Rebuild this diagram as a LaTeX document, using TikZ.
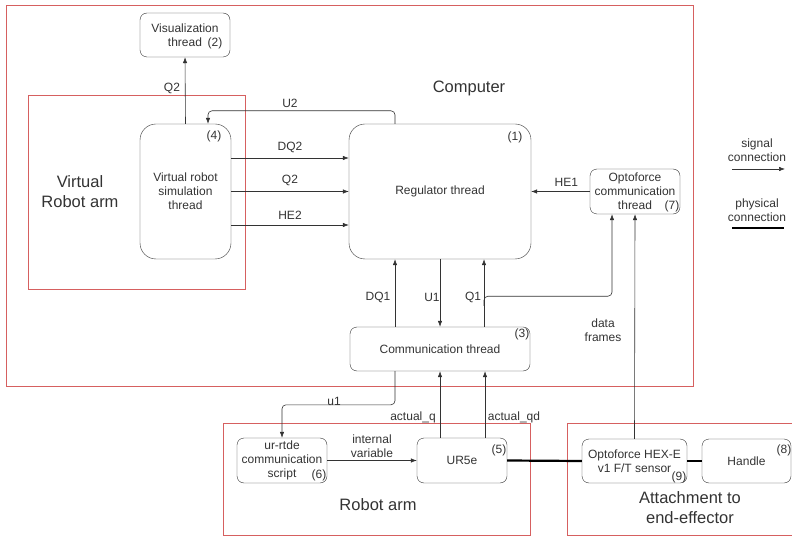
\documentclass[tikz,border=0pt]{standalone}
\usepackage{fontspec}
\setmainfont{Liberation Sans}
\usetikzlibrary{arrows.meta,positioning}

\definecolor{grpred}{RGB}{214,96,96}
\definecolor{ink}{RGB}{51,51,51}

\tikzset{
  block/.style={draw=ink, rounded corners=7pt, align=center, inner sep=0pt,
    font=\fontsize{12}{14}\selectfont, text=ink},
  bigblock/.style={block, rounded corners=16pt},
  group/.style={draw=grpred, line width=0.9pt},
  grouplabel/.style={align=center, font=\fontsize{16.5}{20}\selectfont, text=ink},
  num/.style={font=\fontsize{12}{14}\selectfont, text=ink, inner sep=0pt},
  lbl/.style={font=\fontsize{12}{14}\selectfont, text=ink, inner sep=0pt, align=center},
  sig/.style={draw=ink, line width=0.6pt, -{Latex[length=6pt,width=4.5pt]}},
  phys/.style={draw=black, line width=2.2pt}
}

\begin{document}
\begin{tikzpicture}[x=1pt,y=-1pt]
    \useasboundingbox (0,0) rectangle (792,537);

    % Groups
    \draw[group] (6,5) rectangle (693,386);
    \draw[group] (28,95) rectangle (245,289);
    \draw[group] (223,423) rectangle (530,535);
    \draw[group] (567,423) rectangle (800,535);
    \node[grouplabel] (computer) at (469,88) {Computer};
    \node[grouplabel] (virtual) at (80,192) {Virtual\\Robot arm};
    \node[grouplabel] (robotarm) at (378,505) {Robot arm};
    \node[grouplabel] (attach) at (690,508) {Attachment to\\end-effector};

    % Threads
    \node[block, minimum width=90pt, minimum height=44pt] (vis) at (185,35) {Visualization\\thread};
    \node[num] at (215,43) {(2)};
    \node[bigblock, minimum width=91pt, minimum height=135pt] (sim) at (185.5,191.5) {Virtual robot\\simulation\\thread};
    \node[num] at (214,136) {(4)};
    \node[bigblock, minimum width=182pt, minimum height=135pt] (reg) at (440,191.5) {Regulator thread};
    \node[num] at (515,137) {(1)};
    \node[block, minimum width=90pt, minimum height=45pt] (opt) at (635,191.5) {Optoforce\\communication\\thread};
    \node[num] at (672,206) {(7)};
    \node[block, minimum width=180pt, minimum height=44pt] (comm) at (440,349) {Communication thread};
    \node[num] at (522,334) {(3)};

    % Hardware
    \node[block, minimum width=90pt, minimum height=45pt] (rtde) at (282,460.5) {ur-rtde\\communication\\script};
    \node[num] at (319,475) {(6)};
    \node[block, minimum width=90pt, minimum height=45pt] (ur) at (462,460.5) {UR5e};
    \node[num] at (499,450) {(5)};
    \node[block, minimum width=105pt, minimum height=44pt] (sens) at (634.5,461) {Optoforce HEX-E\\v1 F/T sensor};
    \node[num] at (679,477) {(9)};
    \node[block, minimum width=89pt, minimum height=44pt] (handle) at (746.5,461) {Handle};
    \node[num] at (784,450) {(8)};

    % Signals
    \draw[sig] (sim.north) -- (vis.south);
    \node[lbl] at (172,88) {Q2};
    \draw[sig, rounded corners=4pt] ([xshift=-45pt]reg.north) |- ([xshift=22.5pt,yshift=13pt]sim.north) -- ([xshift=22.5pt]sim.north);
    \node[lbl] at (290,103) {U2};
    \draw[sig] ([yshift=33.5pt]sim.east) -- node[lbl, above=5pt] {DQ2} ([yshift=33.5pt]reg.west);
    \draw[sig] (sim.east) -- node[lbl, above=5pt] {Q2} (reg.west);
    \draw[sig] ([yshift=-33.5pt]sim.east) -- node[lbl, above=5pt] {HE2} ([yshift=-33.5pt]reg.west);
    \draw[sig] (opt.west) -- node[lbl, above=5pt, pos=0.4] {HE1} (reg.east);

    \draw[sig] ([xshift=-45pt]comm.north) -- ([xshift=-45pt]reg.south);
    \draw[sig] (reg.south) -- (comm.north);
    \draw[sig] ([xshift=44pt]comm.north) -- ([xshift=44pt]reg.south);
    \node[lbl] at (378,297) {DQ1};
    \node[lbl] at (432,297) {U1};
    \node[lbl] at (473,297) {Q1};
    \draw[sig, rounded corners=4pt] ([xshift=44pt,yshift=21pt]comm.north) |- ([xshift=-23pt,yshift=-82pt]opt.south) -- ([xshift=-23pt]opt.south);

    \draw[sig] (sens.north) -- (opt.south);
    \node[lbl] at (603,330) {data\\frames};

    \draw[sig, rounded corners=4pt] ([xshift=-45pt]comm.south) |- ([yshift=33pt]rtde.north) -- (rtde.north);
    \node[lbl] at (334,401) {u1};
    \coordinate (qd) at ([xshift=45pt]comm.south);
    \draw[sig] (ur.north -| comm.south) -- (comm.south);
    \draw[sig] (ur.north -| qd) -- (qd);
    \node[lbl] at (413,417) {actual\_q};
    \node[lbl] at (514,417) {actual\_qd};
    \draw[sig] (rtde.east) -- node[lbl, above=3pt] {internal\\variable} (ur.west);

    % Physical links
    \draw[phys] (ur.east) -- (sens.west);
    \draw[phys] (sens.east) -- (handle.west);

    % Legend
    \node[lbl] (sigtext) at (757,150) {signal\\connection};
    \coordinate (siga) at (732,169);
    \coordinate (sigb) at (785,169);
    \draw[sig] (siga) -- (sigb);
    \node[lbl] (phystext) at (757,210) {physical\\connection};
    \coordinate (physa) at (732,228);
    \coordinate (physb) at (784,228);
    \draw[phys] (physa) -- (physb);
\end{tikzpicture}
\end{document}
